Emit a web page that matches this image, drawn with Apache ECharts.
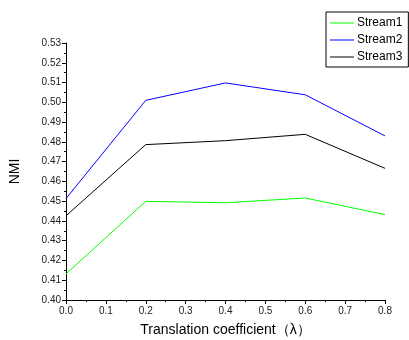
<!DOCTYPE html>
<html><head><meta charset="utf-8">
<script src="https://cdn.jsdelivr.net/npm/echarts@6/dist/echarts.min.js"></script>
<style>html,body{margin:0;padding:0;background:#fff}#c{width:409px;height:340px}</style>
</head><body><div id="c"></div>
<script>
const xValues = [0.0, 0.2, 0.4, 0.6, 0.8];
const stream1 = [0.4132, 0.4499, 0.4492, 0.4516, 0.4432];
const stream2 = [0.4513, 0.5010, 0.5098, 0.5038, 0.4830];
const stream3 = [0.4426, 0.4786, 0.4806, 0.4838, 0.4666];
const seriesNames = ['Stream1', 'Stream2', 'Stream3'];
const colors = ['#00ff00', '#0000ff', '#000000'];

const font = 'Liberation Sans, Arial, sans-serif';
const chart = echarts.init(document.getElementById('c'), null, {renderer: 'canvas'});
const mk = (name, vals, col) => ({
  name, type: 'line', data: xValues.map((x, i) => [x, vals[i]]),
  symbol: 'none', lineStyle: {color: col, width: 1}, itemStyle: {color: col}, animation: false
});
chart.setOption({
  animation: false,
  grid: {left: 66, right: 24, top: 43, bottom: 40, outerBoundsMode: 'none', containLabel: false},
  legend: {
    orient: 'vertical', left: 326, top: 12, data: seriesNames,
    icon: 'rect', itemWidth: 24, itemHeight: 1, itemGap: 5,
    borderColor: '#000', borderWidth: 1, padding: [5, 6, 4, 4],
    textStyle: {fontFamily: font, fontSize: 12, color: '#000', padding: [0, 0, 0, -2]}
  },
  xAxis: {
    type: 'value', min: 0, max: 0.8, interval: 0.1,
    name: 'Translation coefficient\uFF08\u03BB\uFF09', nameLocation: 'middle', nameGap: 23,
    nameTextStyle: {fontFamily: font, fontSize: 14, color: '#000'},
    axisLine: {lineStyle: {color: '#000', width: 1}},
    axisTick: {inside: false, length: 4, lineStyle: {color: '#000'}},
    minorTick: {show: true, splitNumber: 2, length: 2, lineStyle: {color: '#000'}},
    axisLabel: {fontFamily: font, fontSize: 10, color: '#222', margin: 6, formatter: v => v.toFixed(1)},
    splitLine: {show: false}
  },
  yAxis: {
    type: 'value', min: 0.40, max: 0.53, interval: 0.01,
    name: 'NMI', nameLocation: 'middle', nameGap: 44, nameRotate: 90,
    nameTextStyle: {fontFamily: font, fontSize: 14, color: '#000'},
    axisLine: {show: true, lineStyle: {color: '#000', width: 1}},
    axisTick: {show: true, inside: false, length: 4, lineStyle: {color: '#000'}},
    minorTick: {show: true, splitNumber: 2, length: 2, lineStyle: {color: '#000'}},
    axisLabel: {fontFamily: font, fontSize: 10, color: '#222', margin: 5, formatter: v => v.toFixed(2)},
    splitLine: {show: false}
  },
  series: [mk(seriesNames[0], stream1, colors[0]), mk(seriesNames[1], stream2, colors[1]), mk(seriesNames[2], stream3, colors[2])]
});
</script></body></html>
